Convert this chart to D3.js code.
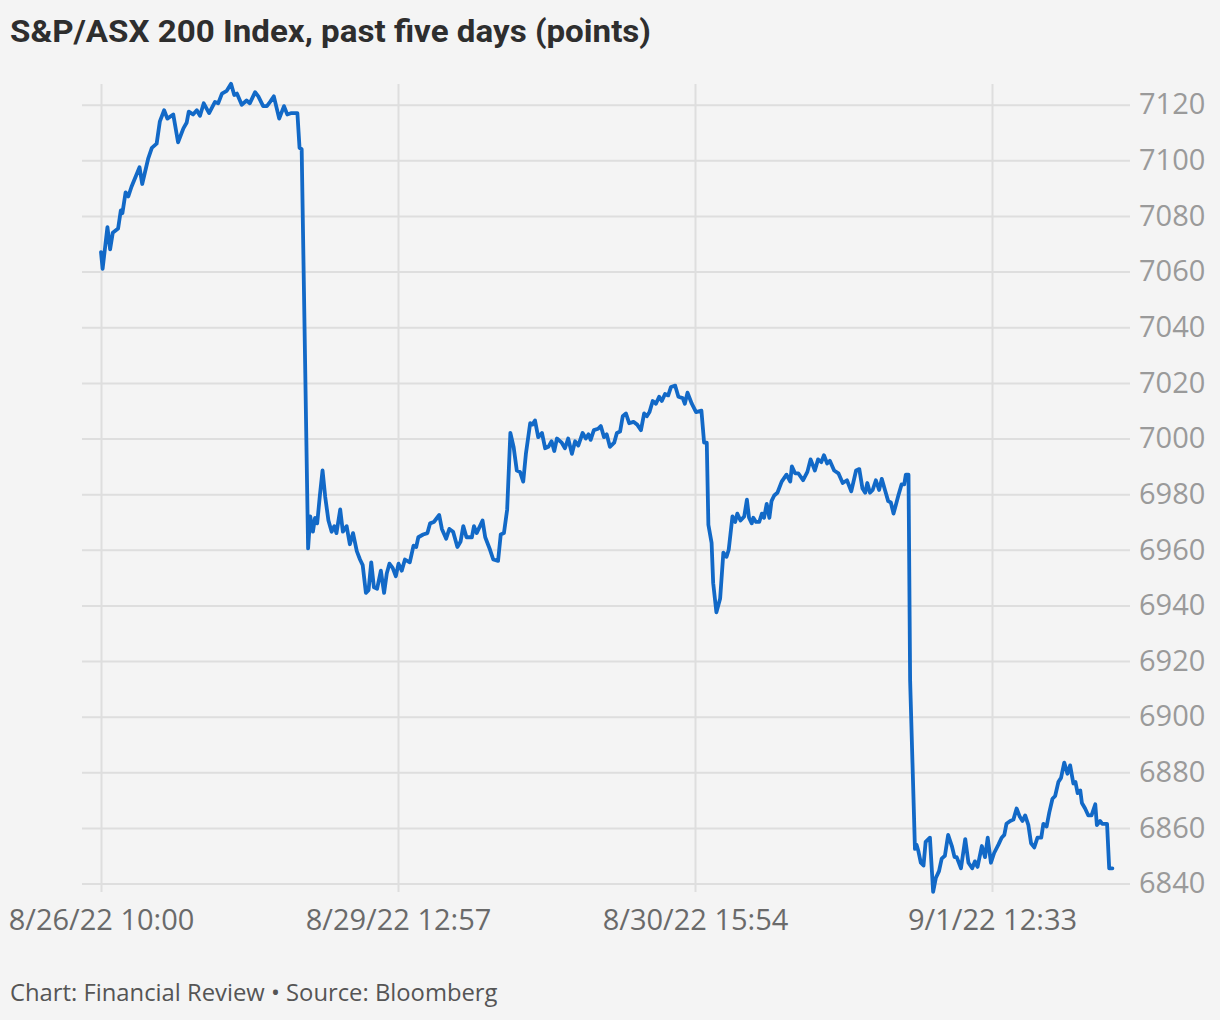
<!DOCTYPE html>
<html><head><meta charset="utf-8">
<script src="https://cdn.jsdelivr.net/npm/d3@7"></script>
<style>body{margin:0;background:#f4f4f4}svg{display:block}</style>
</head><body>
<svg id="c" width="1220" height="1020"></svg>
<script>
// Trading minutes since open on 8/26/22 (trading day ≈ 378 min) and index values, per day
const day1Minutes = [0,3,12,17,22,32,37,40,46,51,57,72,77,88,95,104,110,118,124,135,144,154,160,164,172,179,185,192,202,213,219,226,235,243,249,254,263,272,278,288,294,303,310,316,323,333,342,348,356,367,371,375];
const day1Values = [7067,7061,7076,7068,7074,7075.5,7082,7081,7088.5,7087,7090.5,7097.5,7091.5,7100.5,7104.5,7106,7114,7118,7115,7116.5,7106.5,7111.5,7113.5,7117.5,7116.5,7118,7116,7120.5,7117,7121,7120.5,7124,7125,7127.5,7123.5,7124,7120,7121.5,7120.5,7124.5,7123,7119.5,7119.5,7121,7123,7115,7119.5,7116.5,7117,7117,7104.5,7104];
const day2Minutes = [387,391,396,400,404,409,414,419,425,431,436,440,447,452,459,465,471,478,484,489,495,500,505,510,516,523,529,534,539,545,551,556,562,568,577,584,589,593,602,610,615,622,632,637,645,651,658,666,672,677,683,693,697,702,713,718,727,733,742,747,753];
const day2Values = [6960.5,6972,6966.5,6971.5,6969.5,6979.5,6988.5,6979,6970.5,6966.5,6968.5,6966,6974.5,6966.5,6968.5,6962,6966,6959.5,6956.5,6954.5,6944.5,6945.5,6955.5,6946.5,6946,6952.5,6944.5,6951.5,6955,6953.5,6950.5,6955,6952.5,6956.5,6955.5,6961.5,6961,6964.5,6965.5,6966,6969.5,6970,6972.5,6967.5,6964,6967.5,6966.5,6961,6963,6968.5,6964.5,6964.5,6968.5,6966,6970.5,6964.5,6960,6956.5,6956,6965.5,6966];
const day3Minutes = [759,765,771,777,783,789,794,802,806,811,817,824,830,836,842,847,852,861,867,873,880,886,892,900,906,911,915,921,929,934,940,945,951,959,964,970,975,981,987,995,1002,1009,1015,1020,1025,1031,1037,1043,1048,1054,1060,1065,1073,1079,1087,1091,1096,1104,1112,1122,1127,1132];
const day3Values = [6974.5,7002,6997,6988.5,6988,6984.5,6994.5,7005.5,7005,7006.5,7000.5,7002,6996.5,6997,6999,6995.5,7000,6998.5,6996.5,7000,6994.5,6999,6997.5,7002,7000,7001.5,6999.5,7003,7003.5,7004.5,7000.5,7001.5,6997,6998.5,7002,7002.5,7008,7009,7005.5,7006,7005,7003,7009,7008,7009.5,7013.5,7012.5,7015,7013.5,7016,7015.5,7018.5,7019,7015,7014.5,7012.5,7016.5,7012.5,7009.5,7010,6998.5,6998.5];
const day4Minutes = [1135,1141,1144,1150,1157,1163,1169,1173,1180,1185,1189,1195,1202,1207,1211,1216,1219,1224,1230,1235,1239,1244,1249,1253,1258,1264,1272,1281,1288,1291,1297,1303,1312,1320,1326,1334,1340,1346,1351,1357,1362,1370,1378,1386,1394,1402,1411,1417,1423,1428,1432,1437,1442,1448,1454,1459,1465,1471,1476,1481,1490,1496,1501,1504,1509];
const day4Values = [6969,6962.5,6948,6937.5,6942.5,6959,6957.5,6960,6972,6970,6973,6970.5,6972,6978,6971.5,6969.5,6971.5,6970,6970,6973,6971.5,6976.5,6971.5,6977.5,6979.5,6980.5,6984.5,6987,6984.5,6990,6987.5,6987.5,6985,6988,6992.5,6988.5,6992.5,6991.5,6994,6991,6992,6988.5,6987.5,6984,6985,6981,6988.5,6989,6982,6980.5,6984,6980.5,6981.5,6985,6981.5,6985.5,6981.5,6977.5,6977,6973,6979.5,6983.5,6983.5,6987,6987];
const day5Minutes = [1512,1521,1524,1527,1532,1537,1541,1549,1555,1560,1566,1571,1577,1583,1590,1595,1599,1607,1615,1621,1628,1633,1638,1646,1652,1657,1663,1669,1677,1683,1688,1692,1699,1705,1711,1717,1722,1727,1733,1738,1744,1750,1757,1761,1767,1772,1778,1783,1789,1794,1800,1806,1811,1817,1821,1825,1830,1833,1839,1845,1851,1858,1861,1867,1871,1880,1884,1890];
const day5Values = [6913,6852.5,6854,6852,6847.5,6846.5,6855,6856.5,6837,6842,6844.5,6849,6850,6857.5,6853.5,6849.5,6849.5,6845.5,6856,6847.5,6845.5,6848,6846,6853.5,6849.5,6856.5,6847.5,6851,6854,6856.5,6857.5,6861.5,6862.5,6863,6867,6864,6862.5,6864.5,6861,6854.5,6853,6856.5,6856.5,6861.5,6860.5,6865.5,6870.5,6871.5,6876.5,6878,6883.5,6879.5,6882.5,6876,6876.5,6872.5,6873.5,6869,6867,6864.5,6864.5,6868.5,6861,6862.5,6861.5,6861.5,6845.5,6845.5];

const xTickMinutes = [0, 555, 1110, 1665];
const xTickLabels = ["8/26/22 10:00", "8/29/22 12:57", "8/30/22 15:54", "9/1/22 12:33"];
const yTicks = [6840,6860,6880,6900,6920,6940,6960,6980,7000,7020,7040,7060,7080,7100,7120];

const titleText = "S&P/ASX 200 Index, past five days (points)";
const footerText = "Chart: Financial Review • Source: Bloomberg";

const minutes = [].concat(day1Minutes, day2Minutes, day3Minutes, day4Minutes, day5Minutes);
const values = [].concat(day1Values, day2Values, day3Values, day4Values, day5Values);
const data = minutes.map((t, i) => ({t, v: values[i]}));

const W = 1220, H = 1020;
const svg = d3.select('#c');
svg.append('rect').attr('width', W).attr('height', H).attr('fill', '#f4f4f4');

const x = d3.scaleLinear().domain([0, 1665]).range([101, 992]);
const y = d3.scaleLinear().domain([6840, 7120]).range([883.6, 104.7]);

const FONT = "'Open Sans', 'Noto Sans', sans-serif";

// Y axis (right) with horizontal gridlines
const gridRight = 1130, gridLeft = 82;
const yAxis = d3.axisRight(y).tickValues(yTicks).tickSize(-(gridRight - gridLeft)).tickPadding(9).tickFormat(d3.format('d'));
const gy = svg.append('g').attr('transform', `translate(${gridRight},0)`).call(yAxis);
gy.select('.domain').remove();
gy.selectAll('line').attr('stroke', '#dedede').attr('stroke-width', 2);
gy.selectAll('text').attr('fill', '#9a9a9a').style('font-family', FONT).style('font-size', '29px');

// X axis (bottom) with vertical gridlines
const axisY = 892, gridTop = 84;
const xAxis = d3.axisBottom(x).tickValues(xTickMinutes).tickSize(-(axisY - gridTop)).tickPadding(17)
  .tickFormat((d, i) => xTickLabels[i]);
const gx = svg.append('g').attr('transform', `translate(0,${axisY})`).call(xAxis);
gx.select('.domain').remove();
gx.selectAll('line').attr('stroke', '#dedede').attr('stroke-width', 2).attr('y1', 0).attr('y2', -(axisY - gridTop));
gx.selectAll('text').attr('fill', '#6a6a6a').style('font-family', FONT).style('font-size', '29px');

// Line
const line = d3.line().x(d => x(d.t)).y(d => y(d.v));
svg.append('path').datum(data).attr('d', line)
  .attr('fill', 'none').attr('stroke', '#1269c7').attr('stroke-width', 3.8)
  .attr('stroke-linejoin', 'round').attr('stroke-linecap', 'round');

// Title
svg.append('text').attr('x', 10).attr('y', 42).text(titleText)
  .attr('fill', '#2e2e2e').style('font-family', "Roboto, 'Open Sans', sans-serif")
  .style('font-weight', 700).style('font-size', '32px')
  .attr('textLength', 641).attr('lengthAdjust', 'spacingAndGlyphs');

// Footer
svg.append('text').attr('x', 10).attr('y', 1001).text(footerText)
  .attr('fill', '#555').style('font-family', FONT).style('font-size', '23.8px');
</script>
</body></html>
